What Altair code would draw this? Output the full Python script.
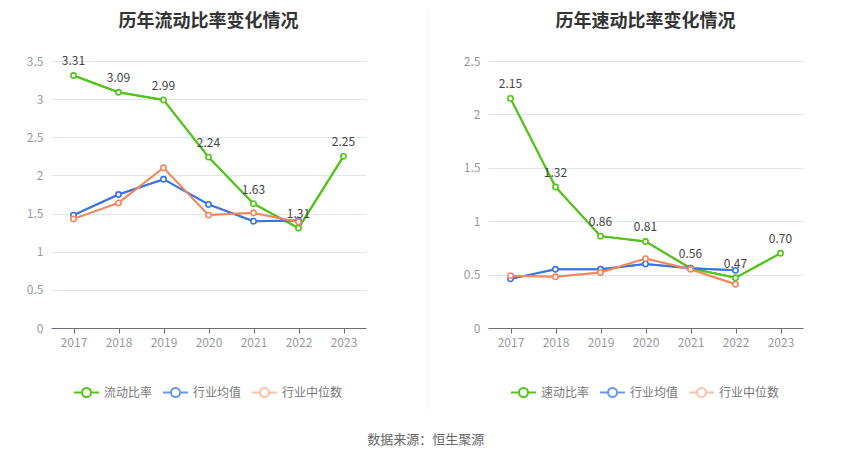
import altair as alt
import pandas as pd

years = ["2017", "2018", "2019", "2020", "2021", "2022", "2023"]
current_ratio = [3.31, 3.09, 2.99, 2.24, 1.63, 1.31, 2.25]
current_avg = [1.48, 1.75, 1.95, 1.62, 1.40, 1.41]
current_median = [1.43, 1.64, 2.10, 1.48, 1.51, 1.39]
quick_ratio = [2.15, 1.32, 0.86, 0.81, 0.56, 0.47, 0.70]
quick_avg = [0.46, 0.55, 0.55, 0.60, 0.56, 0.54]
quick_median = [0.49, 0.48, 0.52, 0.65, 0.55, 0.41]

GREEN = "#52c41a"
BLUE = "#3a74e0"
ORANGE = "#f5875c"
FONT = "Noto Sans CJK SC"

LEGEND_SYMBOL = ("M-1,0H-0.36M0.36,0H1"
                 "M-0.36,0A0.36,0.36,0,1,1,0.36,0A0.36,0.36,0,1,1,-0.36,0")


def panel(title, main_name, main_vals, avg_vals, med_vals, ymax):
    rows = []
    for y, v in zip(years, main_vals):
        rows.append({"year": y, "series": main_name, "value": v})
    for y, v in zip(years, avg_vals):
        rows.append({"year": y, "series": "行业均值", "value": v})
    for y, v in zip(years, med_vals):
        rows.append({"year": y, "series": "行业中位数", "value": v})
    df = pd.DataFrame(rows)
    domain = [main_name, "行业均值", "行业中位数"]
    ticks = [i * 0.5 for i in range(int(ymax / 0.5) + 1)]

    x = alt.X("year:N", sort=years, scale=alt.Scale(padding=0.5),
              axis=alt.Axis(title=None, labelAngle=0, grid=False,
                            domainColor="#6e7079", tickColor="#6e7079",
                            tickSize=5, labelColor="#999", labelFontSize=12,
                            labelPadding=4))
    y = alt.Y("value:Q", scale=alt.Scale(domain=[0, ymax], nice=False),
              axis=alt.Axis(title=None, values=ticks, format="~g",
                            domain=False, ticks=False, gridColor="#e0e6f1",
                            labelColor="#999", labelFontSize=12,
                            labelPadding=8))
    legend = alt.Legend(orient="none", legendX=22, legendY=318,
                        direction="horizontal", title=None,
                        symbolType=LEGEND_SYMBOL, symbolSize=625,
                        symbolStrokeWidth=2, labelFontSize=12,
                        labelColor="#777", columnPadding=6,
                        labelOffset=4, labelFont=FONT)
    color = alt.Color("series:N",
                      scale=alt.Scale(domain=domain, range=[GREEN, BLUE, ORANGE]),
                      legend=legend)
    opacity = alt.Opacity("series:N",
                          scale=alt.Scale(domain=domain, range=[1, 0.5, 0.5]),
                          legend=legend)
    base = alt.Chart(df).encode(x=x, y=y, color=color)
    ghost = base.mark_line(strokeWidth=2).encode(opacity=opacity)
    line = base.mark_line(strokeWidth=2, opacity=1)
    pts = base.mark_point(shape="circle", fill="white", size=28,
                          strokeWidth=1.6, opacity=1)
    labels = alt.Chart(df[df.series == main_name]).mark_text(
        dy=-14, fontSize=12, color="#444", font=FONT
    ).encode(x=x, y=y, text=alt.Text("value:Q", format=".2f"))
    return alt.layer(ghost, line, pts, labels).properties(
        width=315, height=267,
        title=alt.TitleParams(title, fontSize=18, fontWeight="bold",
                              color="#333", anchor="middle", frame="group",
                              offset=24, font=FONT))


left = panel("历年流动比率变化情况", "流动比率", current_ratio, current_avg,
             current_median, 3.5)
right = panel("历年速动比率变化情况", "速动比率", quick_ratio, quick_avg,
              quick_median, 2.5)

sep = alt.Chart(pd.DataFrame({"k": [0]})).mark_rule(
    color="#efefef", strokeWidth=1
).encode(x=alt.value(40), y=alt.value(-51), y2=alt.value(348)).properties(
    width=53, height=267)

chart = alt.hconcat(left, sep, right, spacing=20).resolve_scale(
    color="independent", opacity="independent"
).properties(
    title=alt.TitleParams("数据来源：恒生聚源", orient="bottom", anchor="middle",
                          fontSize=13, fontWeight="normal", color="#666",
                          offset=24, dx=11, font=FONT),
    padding={"left": 17, "top": 1, "right": 0, "bottom": 0},
).configure(font=FONT).configure_view(stroke="transparent")

chart.save("out.html", embed_options={"renderer": "svg", "actions": False})
